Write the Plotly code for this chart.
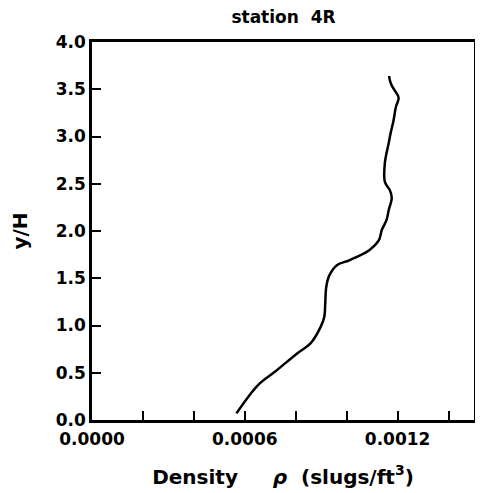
import plotly.graph_objects as go

# density profile at station 4R
density = [0.000567, 0.000652, 0.000718, 0.000808, 0.000858, 0.000897, 0.000912,
           0.000916, 0.000920, 0.000932, 0.000963, 0.001010, 0.001090, 0.001126,
           0.001138, 0.001157, 0.001165, 0.001177, 0.001170, 0.001150, 0.001150,
           0.001165, 0.001173, 0.001184, 0.001193, 0.001204, 0.001188, 0.001177,
           0.001169, 0.001167]
y_over_h = [0.07, 0.37, 0.51, 0.71, 0.81, 0.98, 1.09,
            1.24, 1.41, 1.53, 1.64, 1.69, 1.80, 1.90,
            2.01, 2.12, 2.22, 2.35, 2.43, 2.52, 2.72,
            2.93, 3.04, 3.17, 3.31, 3.41, 3.49, 3.54,
            3.60, 3.64]

font = dict(family="DejaVu Sans", size=17, color="black", weight="bold")

fig = go.Figure(go.Scatter(x=density, y=y_over_h, mode="lines",
                           line=dict(color="black", width=2.5, shape="spline"),
                           showlegend=False))

# the page body adds an 8px margin, so the figure is 8px smaller than the window
fig.update_layout(
    width=475, height=485,
    margin=dict(l=84, r=6, t=34, b=73),
    paper_bgcolor="white", plot_bgcolor="white",
    font=font,
    title=dict(text="station  4R", x=0.58, xanchor="center",
               yref="container", y=0.981, yanchor="middle",
               font=dict(size=17)),
)
fig.update_xaxes(range=[0, 0.0015], tickvals=[0, 0.0006, 0.0012], tickformat=".4f",
                 ticks="inside", ticklen=9, tickwidth=1.5, tickcolor="black",
                 minor=dict(dtick=0.0002, tick0=0, ticks="inside", ticklen=9, tickwidth=1.5,
                            tickcolor="black"),
                 ticklabelstandoff=2,
                 showline=True, linewidth=2.5, linecolor="black", mirror=True,
                 showgrid=False, zeroline=False,
                 title=dict(text="Density     <i>\u03c1</i>  (slugs/ft<sup>3</sup>)", standoff=22))
fig.update_yaxes(range=[0, 4], dtick=0.5, tickformat=".1f",
                 ticks="inside", ticklen=9, tickwidth=1.5, tickcolor="black",
                 showline=True, linewidth=2.5, linecolor="black", mirror=True,
                 showgrid=False, zeroline=False,
                 title=dict(text="y/H", standoff=28))

fig.write_html("out.html")
